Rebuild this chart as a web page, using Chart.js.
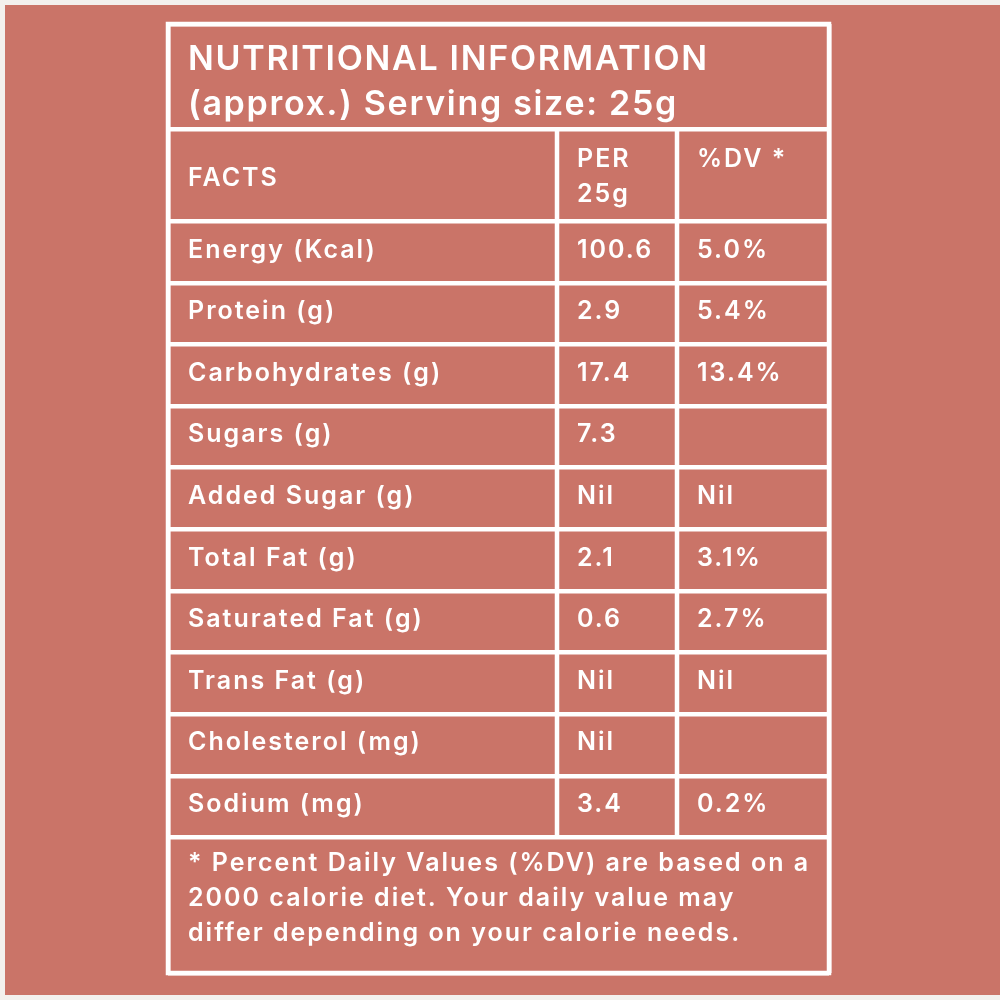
<!DOCTYPE html>
<html>
<head>
<meta charset="utf-8">
<script src="https://cdn.jsdelivr.net/npm/chart.js@4.4.0/dist/chart.umd.min.js"></script>
<style>
    html, body { margin: 0; padding: 0; background: #f3f0ed; }
    #panel { position: absolute; left: 5px; top: 5px; width: 995px; height: 990px; background: #ca7468; }
    #chart { position: absolute; left: 0; top: 0; }
</style>
</head>
<body>
<div id="panel"></div>
<canvas id="chart" width="1000" height="1000"></canvas>
<script>
// table content
const titleLines = ['NUTRITIONAL INFORMATION', '(approx.) Serving size: 25g'];
const headerFacts = ['FACTS'];
const headerPer = ['PER', '25g'];
const headerDv = ['%DV *'];
const rowLabels = ['Energy (Kcal)', 'Protein (g)', 'Carbohydrates (g)', 'Sugars (g)', 'Added Sugar (g)',
    'Total Fat (g)', 'Saturated Fat (g)', 'Trans Fat (g)', 'Cholesterol (mg)', 'Sodium (mg)'];
const perServing = ['100.6', '2.9', '17.4', '7.3', 'Nil', '2.1', '0.6', 'Nil', 'Nil', '3.4'];
const dailyValue = ['5.0%', '5.4%', '13.4%', '', 'Nil', '3.1%', '2.7%', 'Nil', '', '0.2%'];
const footnoteLines = ['* Percent Daily Values (%DV) are based on a', '2000 calorie diet. Your daily value may',
    'differ depending on your calorie needs.'];

// layout (relative row heights / column widths)
const rowWeights = [1.7, 1.5, ...rowLabels.map(() => 1), 2.2];
const colWeights = [389, 120, 152];

const cumulate = (arr) => arr.reduce((acc, w) => { acc.push(acc[acc.length - 1] + w); return acc; }, [0]);
const yBounds = cumulate(rowWeights);
const xBounds = cumulate(colWeights);
const yMax = yBounds[yBounds.length - 1];
const xMax = xBounds[xBounds.length - 1];

const WHITE = '#ffffff';
const LINE_W = 4.5;
const FONT = 'Inter, "Open Sans", sans-serif';
const PAD = 20;

const tablePlugin = {
    id: 'nutritionTable',
    afterDraw(chart) {
        const { ctx, scales: { x, y } } = chart;
        const px = v => x.getPixelForValue(v);
        const py = v => y.getPixelForValue(v);
        const rowTop = i => py(yBounds[i]);
        const rowMid = i => (py(yBounds[i]) + py(yBounds[i + 1])) / 2;

        ctx.save();
        ctx.strokeStyle = WHITE;
        ctx.lineWidth = LINE_W;
        ctx.beginPath();
        [xBounds[1], xBounds[2]].forEach(v => {
            ctx.moveTo(px(v), rowTop(1));
            ctx.lineTo(px(v), rowTop(yBounds.length - 2));
        });
        ctx.stroke();
        ctx.strokeRect(px(0), py(0), px(xMax) - px(0), py(yMax) - py(0));

        ctx.fillStyle = WHITE;
        ctx.textAlign = 'left';
        ctx.textBaseline = 'alphabetic';

        // title
        ctx.font = '600 34px ' + FONT;
        ctx.letterSpacing = '1.7px';
        titleLines.forEach((t, i) => ctx.fillText(t, px(0) + PAD, rowTop(0) + 46 + i * 45));

        // header row
        ctx.font = '600 25px ' + FONT;
        ctx.letterSpacing = '2px';
        headerFacts.forEach((t, i) => ctx.fillText(t, px(xBounds[0]) + PAD, rowTop(1) + 57 + i * 35));
        headerPer.forEach((t, i) => ctx.fillText(t, px(xBounds[1]) + PAD, rowTop(1) + 38 + i * 35));
        headerDv.forEach((t, i) => ctx.fillText(t, px(xBounds[2]) + PAD, rowTop(1) + 38 + i * 35));

        // data rows
        rowLabels.forEach((label, i) => {
            const base = rowMid(i + 2) + 5.5;
            ctx.fillText(label, px(xBounds[0]) + PAD, base);
            ctx.fillText(perServing[i], px(xBounds[1]) + PAD, base);
            ctx.fillText(dailyValue[i], px(xBounds[2]) + PAD, base);
        });

        // footnote
        footnoteLines.forEach((t, i) => ctx.fillText(t, px(0) + PAD, rowTop(yBounds.length - 2) + 33.5 + i * 35));
        ctx.restore();
    }
};

const gridOpts = { color: WHITE, lineWidth: LINE_W, drawTicks: false, offset: false };

new Chart(document.getElementById('chart'), {
    type: 'scatter',
    data: { datasets: [] },
    options: {
        responsive: false,
        animation: false,
        devicePixelRatio: 1,
        layout: { padding: { left: 168, right: 171, top: 24, bottom: 27 } },
        plugins: { legend: { display: false }, tooltip: { enabled: false } },
        scales: {
            x: {
                type: 'linear', min: 0, max: xMax, offset: false,
                afterBuildTicks: s => { s.ticks = [{ value: 0 }, { value: xMax }]; },
                ticks: { display: false }, border: { display: false }, grid: gridOpts
            },
            y: {
                type: 'linear', min: 0, max: yMax, reverse: true, offset: false,
                afterBuildTicks: s => { s.ticks = yBounds.map(v => ({ value: v })); },
                ticks: { display: false }, border: { display: false }, grid: gridOpts
            }
        }
    },
    plugins: [tablePlugin]
});
</script>
</body>
</html>
